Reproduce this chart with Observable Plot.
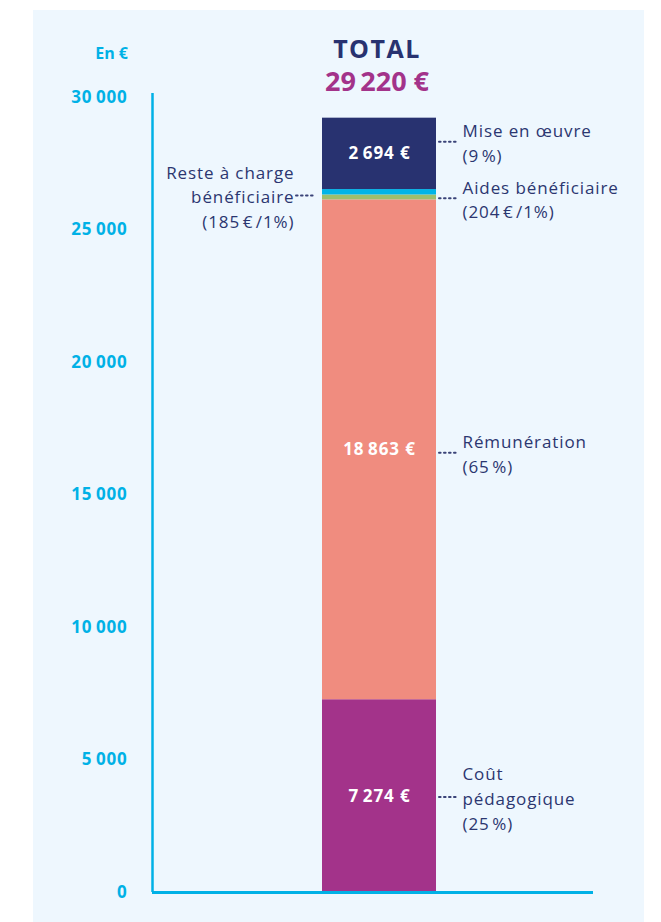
<!DOCTYPE html>
<html lang="fr">
<head>
<meta charset="utf-8">
<script src="https://cdn.jsdelivr.net/npm/d3@7"></script>
<script src="https://cdn.jsdelivr.net/npm/@observablehq/plot@0.6"></script>
<style>
  html, body { margin: 0; padding: 0; background: #ffffff; }
  body { width: 661px; height: 922px; position: relative; overflow: hidden; font-family: "Open Sans", sans-serif; }
  #panel { position: absolute; left: 33px; top: 10px; width: 611px; height: 912px; background: #EEF7FE; }
  #chart { position: absolute; left: 0; top: 0; }
  .hdr { position: absolute; font-weight: 700; white-space: nowrap; line-height: 1; transform: translate(-50%, -50%); }
  #total { left: 377px; top: 48px; font-size: 25px; letter-spacing: 1.5px; color: #283270; }
  #amount { left: 377px; top: 80px; font-size: 27px; color: #A3338A; }
  #unit { position: absolute; right: calc(661px - 128px); top: 53px; line-height: 1; transform: translateY(-50%); font-size: 16px; font-weight: 700; color: #00B1E6; white-space: nowrap; }
</style>
</head>
<body>
<div id="panel"></div>
<div id="chart"></div>
<div id="total" class="hdr">TOTAL</div>
<div id="amount" class="hdr"></div>
<div id="unit">En €</div>
<script>
// ---- Data ----
const categories = ["Coût pédagogique", "Rémunération", "Reste à charge bénéficiaire", "Aides bénéficiaire", "Mise en œuvre"];
const values = [7274, 18863, 185, 204, 2694];
const labels = [
  "Coût\npédagogique\n(25\u200a%)",
  "Rémunération\n(65\u200a%)",
  "Reste à charge\nbénéficiaire\n(185\u200a€\u200a/1%)",
  "Aides bénéficiaire\n(204\u200a€\u200a/1%)",
  "Mise en œuvre\n(9\u200a%)"
];
const yTicks = [0, 5000, 10000, 15000, 20000, 25000, 30000];

// ---- Styles / layout ----
const colors = ["#A3338A", "#F08C7F", "#9DBE6E", "#00B4E8", "#283270"];
const navy = "#2B3670";
const cyan = "#00B1E6";
const labelLayout = {
  "Coût pédagogique": {side: "right", dy: 1},
  "Rémunération": {side: "right", dy: 3},
  "Reste à charge bénéficiaire": {side: "left", dy: -2},
  "Aides bénéficiaire": {side: "right", dy: 6},
  "Mise en œuvre": {side: "right", dy: -12}
};
// x is expressed in pixels from the frame's left edge (frame is 441px wide)
const BAR = {x1: 170, x2: 284};
const LEAD_R = {x1: 287, x2: 306, text: 310};
const LEAD_L = {x1: 144, x2: 164, text: 142};

const sep = "\u2009";
const fmtNum = v => d3.format(",")(v).replace(/,/g, sep);
const total = d3.sum(values);
document.getElementById("amount").textContent = fmtNum(total) + "\u00a0€";

const ends = d3.cumsum(values);
const data = categories.map((c, i) => ({
  category: c,
  value: values[i],
  label: labels[i],
  y1: ends[i] - values[i],
  y2: ends[i],
  mid: ends[i] - values[i] / 2
}));

const labelMarks = data.flatMap(d => {
  const L = labelLayout[d.category];
  const right = L.side === "right";
  const lead = right ? LEAD_R : LEAD_L;
  return [
    Plot.ruleY([d], {
      y: "mid", x1: lead.x1, x2: lead.x2, dy: L.dy,
      stroke: "#3A4378", strokeWidth: 2, strokeDasharray: "1.6,3.4", strokeLinecap: "round"
    }),
    Plot.text([d], {
      x: lead.text, y: "mid", dy: L.dy, text: "label",
      textAnchor: right ? "start" : "end", lineAnchor: "middle", lineHeight: 1.45,
      fill: navy, fontSize: 17
    })
  ];
});

const chart = Plot.plot({
  width: 661,
  height: 922,
  marginTop: 97,
  marginBottom: 30,
  marginLeft: 152,
  marginRight: 68,
  style: {fontFamily: "'Open Sans', sans-serif", background: "transparent", overflow: "visible"},
  x: {domain: [0, 441], axis: null},
  y: {domain: [0, 30000], axis: null},
  color: {domain: categories, range: colors},
  marks: [
    Plot.rectY(data, {x1: BAR.x1, x2: BAR.x2, y1: "y1", y2: "y2", fill: "category"}),
    Plot.text(data.filter(d => d.value > 1000), {
      x: (BAR.x1 + BAR.x2) / 2, y: "mid",
      text: d => fmtNum(d.value) + "\u00a0€",
      fill: "white", fontWeight: 700, fontSize: 17
    }),
    Plot.ruleX([0], {y1: 0, y2: 30150, stroke: cyan, strokeWidth: 2.5}),
    Plot.ruleY([0], {stroke: cyan, strokeWidth: 3}),
    Plot.axisY({
      ticks: yTicks, tickSize: 0, tickPadding: 25,
      tickFormat: fmtNum, fill: cyan, fontWeight: 700, fontSize: 17
    }),
    ...labelMarks
  ]
});
d3.select(chart).selectAll('g[aria-label="text"] text').style("letter-spacing", "0.9px");
d3.select(chart).selectAll('g[aria-label="y-axis tick label"] text').style("letter-spacing", "0.8px");
document.getElementById("chart").appendChild(chart);
</script>
</body>
</html>
